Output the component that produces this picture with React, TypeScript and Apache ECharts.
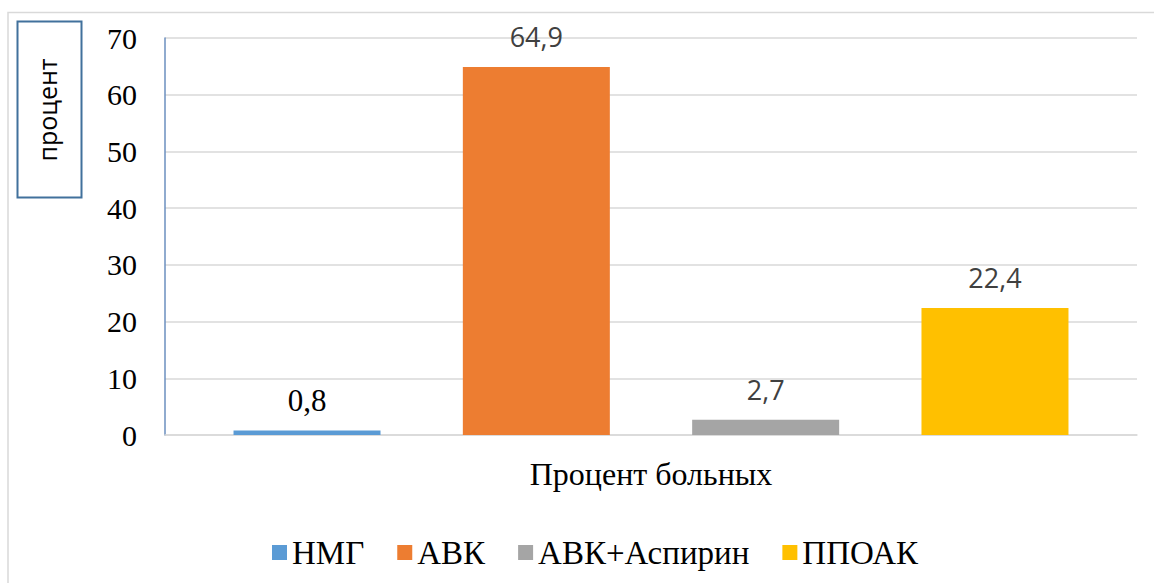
import React, { useEffect, useRef } from "react";
import * as echarts from "echarts";

const categories = ["Процент больных"];
const seriesNames = ["НМГ", "АВК", "АВК+Аспирин", "ППОАК"];
const seriesValues = [0.8, 64.9, 2.7, 22.4];
const seriesColors = ["#5b9bd5", "#ed7d31", "#a5a5a5", "#ffc000"];
const yTicks = { min: 0, max: 70, interval: 10 };
const yAxisTitle = "процент";

const SERIF = "Liberation Serif";
const SANS = "Open Sans";

export default function App() {
  const ref = useRef<HTMLDivElement>(null);
  useEffect(() => {
    if (!ref.current) return;
    const chart = echarts.init(ref.current, null, { renderer: "svg" });
    const series = seriesNames.map((name, i) => ({
      name,
      type: "bar",
      data: [seriesValues[i]],
      barWidth: 147,
      barGap: "56%",
      itemStyle: { color: seriesColors[i] },
      label: {
        show: true,
        position: "top",
        distance: i === 0 ? 14 : 17,
        formatter: (p: any) => String(p.value).replace(".", ","),
        fontFamily: i === 0 ? SERIF : SANS,
        fontSize: i === 0 ? 31 : 27,
        color: i === 0 ? "#000000" : "#404040",
      },
    }));
    chart.setOption({
      animation: false,
      backgroundColor: "#ffffff",
      textStyle: { fontFamily: SERIF },
      grid: { left: 165, right: 17, top: 38, bottom: 148, containLabel: false },
      xAxis: {
        type: "category",
        data: categories,
        axisTick: { show: false },
        axisLine: { show: true, lineStyle: { color: "#d9d9d9", width: 1.5 } },
        axisLabel: { fontFamily: SERIF, fontSize: 32, color: "#000000", margin: 23 },
      },
      yAxis: {
        type: "value",
        min: yTicks.min,
        max: yTicks.max,
        interval: yTicks.interval,
        axisLine: { show: true, lineStyle: { color: "#6b8fbf", width: 1.5 } },
        axisTick: { show: false },
        splitLine: { lineStyle: { color: "#d9d9d9", width: 1.5 } },
        axisLabel: { fontFamily: SERIF, fontSize: 30, color: "#000000", margin: 28 },
      },
      legend: {
        data: seriesNames,
        left: 267,
        top: 531,
        icon: "rect",
        itemWidth: 15,
        itemHeight: 15,
        itemGap: 33,
        textStyle: { fontFamily: SERIF, fontSize: 33, color: "#000000" },
      },
      graphic: [
        {
          type: "rect",
          shape: { x: 8, y: 12.5, width: 1160, height: 600 },
          style: { fill: "none", stroke: "#d9d9d9", lineWidth: 1.5 },
          silent: true,
        },
        {
          type: "rect",
          shape: { x: 17.5, y: 21.5, width: 64, height: 176 },
          style: { fill: "#ffffff", stroke: "#41719c", lineWidth: 2 },
          silent: true,
        },
        {
          type: "text",
          x: 47,
          y: 110,
          rotation: Math.PI / 2,
          style: {
            text: yAxisTitle,
            fontFamily: SANS,
            fontSize: 25,
            fill: "#000000",
            align: "center",
            verticalAlign: "middle",
          },
          silent: true,
        },
      ],
      series,
    });
    return () => chart.dispose();
  }, []);
  return (
    <div
      ref={ref}
      style={{ position: "fixed", left: 0, top: 0, width: 1154, height: 583 }}
    />
  );
}
